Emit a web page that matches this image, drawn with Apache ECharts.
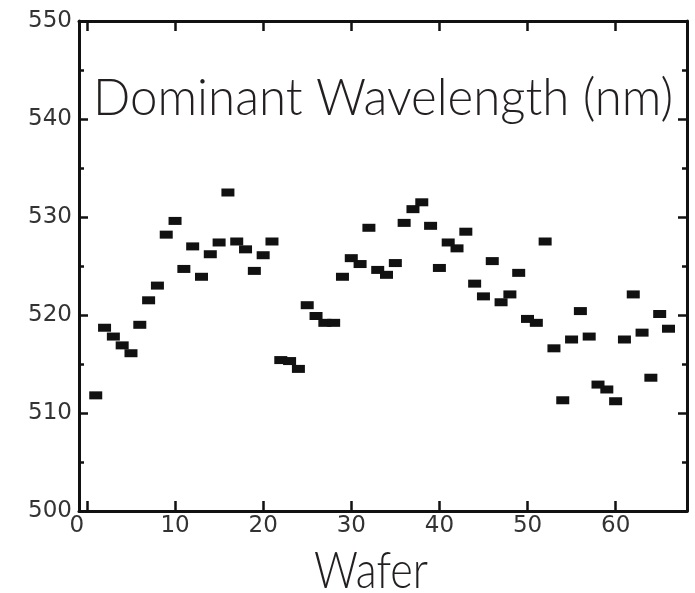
<!DOCTYPE html>
<html><head><meta charset="utf-8">
<script src="https://cdn.jsdelivr.net/npm/echarts@6/dist/echarts.min.js"></script>
<style>html,body{margin:0;padding:0;background:#fff}#c{width:695px;height:593px}</style>
</head><body><div id="c"></div>
<script>
const wafers = [1,2,3,4,5,6,7,8,9,10,11,12,13,14,15,16,17,18,19,20,21,22,23,24,25,26,27,28,29,30,31,32,33,34,35,36,37,38,39,40,41,42,43,44,45,46,47,48,49,50,51,52,53,54,55,56,57,58,59,60,61,62,63,64,65,66];
const wavelength = [511.8,518.7,517.8,516.9,516.1,519.0,521.5,523.0,528.2,529.6,524.7,527.0,523.9,526.2,527.4,532.5,527.5,526.7,524.5,526.1,527.5,515.4,515.3,514.5,521.0,519.9,519.2,519.2,523.9,525.8,525.2,528.9,524.6,524.1,525.3,529.4,530.8,531.5,529.1,524.8,527.4,526.8,528.5,523.2,521.9,525.5,521.3,522.1,524.3,519.6,519.2,527.5,516.6,511.3,517.5,520.4,517.8,512.9,512.4,511.2,517.5,522.1,518.2,513.6,520.1,518.6];
const xTicks = [0,10,20,30,40,50,60];
const titleText = 'Dominant Wavelength (nm)';
const xName = 'Wafer';

const chart = echarts.init(document.getElementById('c'), null, {renderer:'canvas'});
const lineStyle = {color:'#111', width:3};
const tickStyle = {color:'#111', width:2.5};
function xAxisCfg(pos, labels){
  return {
    type:'value', position:pos, min:-0.9, max:68.1,
    axisLine:{show:true, onZero:false, lineStyle},
    axisTick:{show:true, inside:true, length:10, lineStyle:tickStyle, customValues:xTicks},
    axisLabel:{show:labels, customValues:xTicks, margin:4, color:'#333', fontSize:23, fontFamily:'DejaVu Sans',
      formatter: v => v === 0 ? '{z|0}' : String(v),
      rich:{z:{padding:[0,20,0,0], color:'#333', fontSize:23, fontFamily:'DejaVu Sans'}}},
    splitLine:{show:false}
  };
}
function yAxisCfg(pos, labels){
  return {
    type:'value', position:pos, min:500, max:550, interval:10,
    axisLine:{show:true, onZero:false, lineStyle},
    axisTick:{show:true, inside:true, length:9, lineStyle:tickStyle},
    minorTick:{show:true, splitNumber:2, length:5, lineStyle:{color:'#111', width:2.5}},
    axisLabel:{show:labels, margin:7, color:'#333', fontSize:23, fontFamily:'DejaVu Sans'},
    splitLine:{show:false}
  };
}
chart.setOption({
  animation:false,
  backgroundColor:'#fff',
  grid:{left:79, right:8, top:21, bottom:82},
  xAxis:[xAxisCfg('bottom', true), xAxisCfg('top', false)],
  yAxis:[yAxisCfg('left', true), yAxisCfg('right', false)],
  series:[{
    type:'scatter', xAxisIndex:0, yAxisIndex:0,
    symbol:'rect', symbolSize:[13,8],
    itemStyle:{color:'#111', opacity:1},
    emphasis:{disabled:true},
    data: wafers.map((w,i)=>[w, wavelength[i]])
  }],
  graphic:[
    {type:'text', x:93, y:99, scaleX:0.965, originX:0, originY:0,
     style:{text:titleText, font:'300 51px Lato, "Liberation Sans", sans-serif', fill:'#231f20', textAlign:'left', textVerticalAlign:'middle'}},
    {type:'text', x:371, y:571, scaleX:0.83, originX:0, originY:0,
     style:{text:xName, font:'300 52px Lato, "Liberation Sans", sans-serif', fill:'#231f20', textAlign:'center', textVerticalAlign:'middle'}}
  ]
});
</script>
</body></html>
